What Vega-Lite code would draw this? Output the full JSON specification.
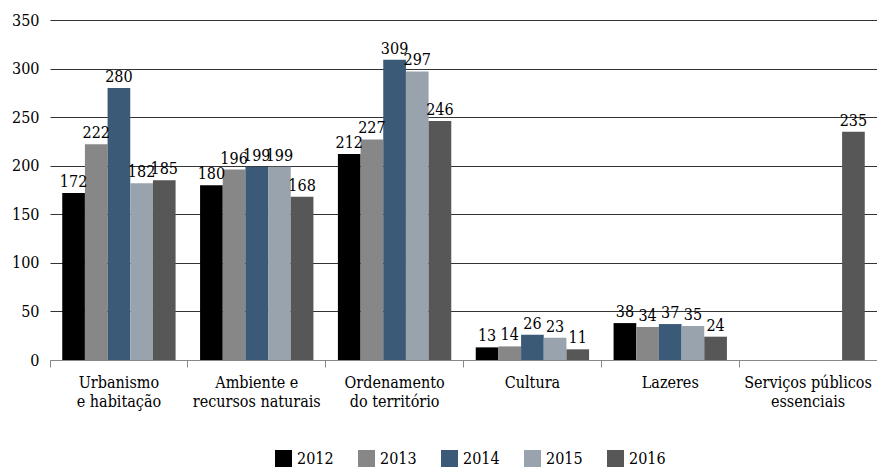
{
  "$schema": "https://vega.github.io/schema/vega-lite/v6.json",
  "width": 827,
  "height": 340,
  "autosize": "none",
  "padding": {"left": 50, "top": 20, "right": 0, "bottom": 107},
  "background": "white",
  "config": {"font": "DejaVu Serif Condensed, DejaVu Serif", "view": {"stroke": null}},
  "data": {
    "values": [
      {"cat": "Urbanismo e habitação", "year": "2012", "value": 172},
      {"cat": "Urbanismo e habitação", "year": "2013", "value": 222},
      {"cat": "Urbanismo e habitação", "year": "2014", "value": 280},
      {"cat": "Urbanismo e habitação", "year": "2015", "value": 182},
      {"cat": "Urbanismo e habitação", "year": "2016", "value": 185},
      {"cat": "Ambiente e recursos naturais", "year": "2012", "value": 180},
      {"cat": "Ambiente e recursos naturais", "year": "2013", "value": 196},
      {"cat": "Ambiente e recursos naturais", "year": "2014", "value": 199},
      {"cat": "Ambiente e recursos naturais", "year": "2015", "value": 199},
      {"cat": "Ambiente e recursos naturais", "year": "2016", "value": 168},
      {"cat": "Ordenamento do território", "year": "2012", "value": 212},
      {"cat": "Ordenamento do território", "year": "2013", "value": 227},
      {"cat": "Ordenamento do território", "year": "2014", "value": 309},
      {"cat": "Ordenamento do território", "year": "2015", "value": 297},
      {"cat": "Ordenamento do território", "year": "2016", "value": 246},
      {"cat": "Cultura", "year": "2012", "value": 13},
      {"cat": "Cultura", "year": "2013", "value": 14},
      {"cat": "Cultura", "year": "2014", "value": 26},
      {"cat": "Cultura", "year": "2015", "value": 23},
      {"cat": "Cultura", "year": "2016", "value": 11},
      {"cat": "Lazeres", "year": "2012", "value": 38},
      {"cat": "Lazeres", "year": "2013", "value": 34},
      {"cat": "Lazeres", "year": "2014", "value": 37},
      {"cat": "Lazeres", "year": "2015", "value": 35},
      {"cat": "Lazeres", "year": "2016", "value": 24},
      {"cat": "Serviços públicos essenciais", "year": "2016", "value": 235}
    ]
  },
  "encoding": {
    "x": {
      "field": "cat",
      "type": "nominal",
      "sort": ["Urbanismo e habitação", "Ambiente e recursos naturais", "Ordenamento do território", "Cultura", "Lazeres", "Serviços públicos essenciais"],
      "scale": {"paddingInner": 0, "paddingOuter": 0},
      "axis": {
        "title": null,
        "labelAngle": 0,
        "bandPosition": 0,
        "labelFontSize": 16,
        "labelColor": "#000",
        "labelLineHeight": 19,
        "labelPadding": 7,
        "labelLimit": 0,
        "tickSize": 7,
        "tickColor": "#888",
        "domainColor": "#888",
        "grid": false,
        "labelExpr": "datum.value == 'Urbanismo e habitação' ? ['Urbanismo', 'e habitação'] : datum.value == 'Ambiente e recursos naturais' ? ['Ambiente e', 'recursos naturais'] : datum.value == 'Ordenamento do território' ? ['Ordenamento', 'do território'] : datum.value == 'Serviços públicos essenciais' ? ['Serviços públicos', 'essenciais'] : datum.value"
      }
    },
    "xOffset": {
      "field": "year",
      "type": "nominal",
      "scale": {"paddingInner": 0, "paddingOuter": 0.54}
    },
    "y": {
      "field": "value",
      "type": "quantitative",
      "scale": {"domain": [0, 350]},
      "axis": {
        "title": null,
        "values": [0, 50, 100, 150, 200, 250, 300, 350],
        "domain": false,
        "ticks": false,
        "labelFontSize": 16,
        "labelColor": "#000",
        "labelPadding": 11,
        "grid": true,
        "gridColor": "#333",
        "gridOpacity": 1
      }
    }
  },
  "layer": [
    {
      "mark": {"type": "bar"},
      "encoding": {
        "color": {
          "field": "year",
          "type": "nominal",
          "scale": {
            "domain": ["2012", "2013", "2014", "2015", "2016"],
            "range": ["#000000", "#878787", "#3a5a77", "#99a3ad", "#575757"]
          },
          "legend": {
            "title": null,
            "orient": "none",
            "legendX": 225,
            "legendY": 430,
            "direction": "horizontal",
            "symbolType": "square",
            "symbolSize": 289,
            "symbolStrokeWidth": 0,
            "symbolOpacity": 1,
            "labelFontSize": 16,
            "labelColor": "#000",
            "labelOffset": 5,
            "columnPadding": 24
          }
        }
      }
    },
    {
      "mark": {"type": "text", "baseline": "bottom", "dy": -3, "fontSize": 16, "color": "#000"},
      "encoding": {"text": {"field": "value", "type": "quantitative"}}
    }
  ]
}
